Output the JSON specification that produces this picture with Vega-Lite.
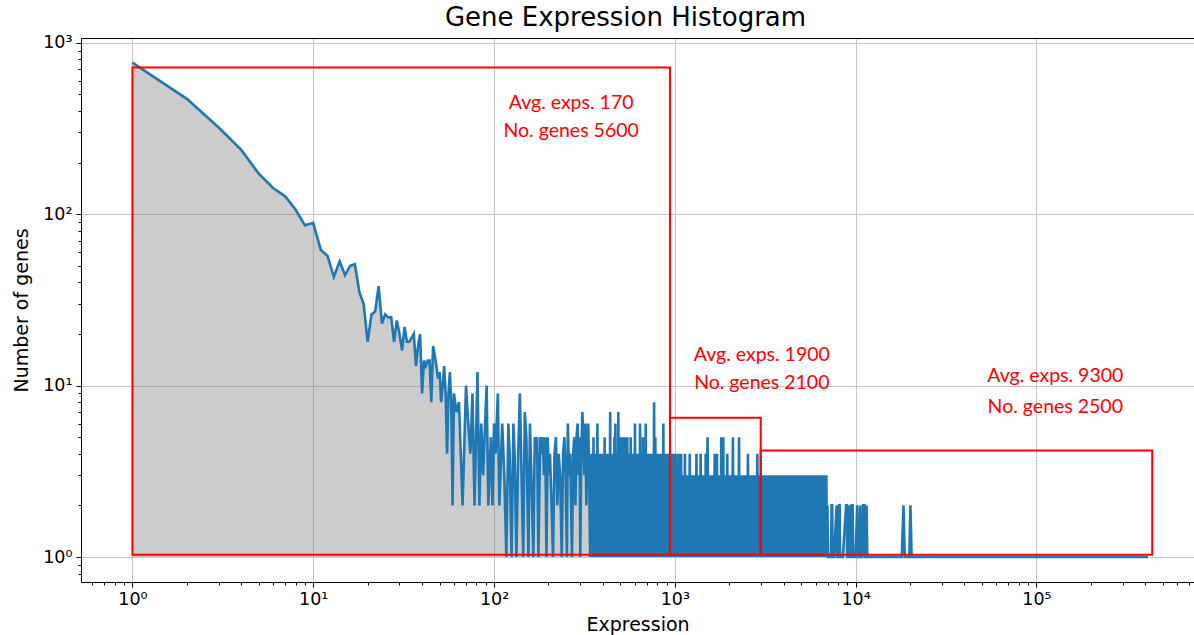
{
  "$schema": "https://vega.github.io/schema/vega-lite/v6.json",
  "width": 1113,
  "height": 544,
  "autosize": "none",
  "padding": {"left": 81, "top": 38, "right": 0, "bottom": 53},
  "background": "white",
  "title": {"text": "Gene Expression Histogram", "font": "DejaVu Sans", "fontSize": 26, "fontWeight": "normal", "color": "black", "anchor": "middle", "offset": 3, "dx": -12},
  "config": {"view": {"stroke": null}, "font": "DejaVu Sans"},
  "datasets": {
    "hist": [
      {"e":1,"n":765},{"e":2,"n":470},{"e":3,"n":320},{"e":4,"n":237},{"e":5,"n":172},{"e":6,"n":142},{"e":7,"n":127},{"e":8,"n":106},{"e":9,"n":86},{"e":10,"n":89},
      {"e":11,"n":62},{"e":12,"n":57},{"e":13,"n":43},{"e":14,"n":53},{"e":15,"n":44},{"e":16,"n":50},{"e":17,"n":51},{"e":18,"n":35},{"e":19,"n":30},{"e":20,"n":18},
      {"e":21,"n":26},{"e":22,"n":27},{"e":23,"n":38},{"e":24,"n":23},{"e":25,"n":26},{"e":26,"n":25},{"e":27,"n":25},{"e":28,"n":18},{"e":29,"n":24},{"e":30,"n":20},
      {"e":31,"n":16},{"e":32,"n":22},{"e":33,"n":18},{"e":34,"n":18},{"e":35,"n":19},{"e":36,"n":20},{"e":37,"n":13},{"e":38,"n":17},{"e":39,"n":20},{"e":40,"n":9},
      {"e":41,"n":14},{"e":42,"n":13},{"e":43,"n":14},{"e":44,"n":14},{"e":45,"n":8},{"e":46,"n":17},{"e":47,"n":15},{"e":48,"n":13},{"e":49,"n":11},{"e":50,"n":12},
      {"e":51,"n":8},{"e":52,"n":10},{"e":53,"n":13},{"e":54,"n":9},{"e":55,"n":4},{"e":56,"n":9},{"e":57,"n":12},{"e":58,"n":8},{"e":59,"n":2},{"e":60,"n":9},
      {"e":62,"n":7},{"e":64,"n":8},{"e":65,"n":5},{"e":67,"n":2},{"e":70,"n":10},{"e":72,"n":6},{"e":74,"n":4},{"e":76,"n":9},{"e":78,"n":2},{"e":81,"n":12},
      {"e":83,"n":2},{"e":85,"n":6},{"e":87,"n":3},{"e":91,"n":10},{"e":93,"n":2},{"e":96,"n":5},{"e":98,"n":2},{"e":100,"n":6},{"e":102,"n":4},{"e":105,"n":9},
      {"e":107,"n":2},{"e":111,"n":6},{"e":114,"n":3},{"e":117,"n":1},{"e":120,"n":6},{"e":122,"n":4},{"e":125,"n":1},{"e":128,"n":6},{"e":130,"n":4},{"e":133,"n":1},
      {"e":136,"n":4},{"e":139,"n":9},{"e":142,"n":3},{"e":145,"n":1},{"e":148,"n":7},{"e":151,"n":5},{"e":155,"n":1},{"e":158,"n":6},{"e":161,"n":3},{"e":165,"n":1},
      {"e":168,"n":5},{"e":171,"n":4},{"e":173,"n":5},{"e":176,"n":1},{"e":180,"n":5},{"e":183,"n":4},{"e":186,"n":5},{"e":189,"n":3},{"e":192,"n":5},{"e":195,"n":1},
      {"e":198,"n":5},{"e":201,"n":3},{"e":204,"n":4},{"e":208,"n":2},{"e":212,"n":1},{"e":216,"n":4},{"e":220,"n":5},{"e":224,"n":2},{"e":228,"n":4},{"e":232,"n":3},
      {"e":237,"n":1},{"e":241,"n":4},{"e":245,"n":5},{"e":249,"n":3},{"e":253,"n":1},{"e":256,"n":6},{"e":260,"n":3},{"e":264,"n":4},{"e":267,"n":2},{"e":270,"n":1},
      {"e":274,"n":4},{"e":278,"n":5},{"e":282,"n":2},{"e":286,"n":5},{"e":290,"n":6},{"e":294,"n":3},{"e":297,"n":5},{"e":300,"n":1},{"e":304,"n":4},{"e":308,"n":7},
      {"e":312,"n":5},{"e":316,"n":3},{"e":320,"n":6},{"e":324,"n":2},{"e":328,"n":4},{"e":332,"n":6},{"e":336,"n":3},
      {"e":340,"n":1},{"e":343,"n":4},{"e":346,"n":1},{"e":349,"n":4},{"e":352,"n":1},{"e":355,"n":5},{"e":358,"n":1},{"e":361,"n":3},{"e":364,"n":1},{"e":367,"n":4},
      {"e":370,"n":1},{"e":373,"n":6},{"e":376,"n":1},{"e":379,"n":4},{"e":382,"n":1},{"e":385,"n":4},{"e":388,"n":1},{"e":391,"n":3},{"e":394,"n":1},{"e":397,"n":4},
      {"e":400,"n":1},{"e":403,"n":4},{"e":406,"n":1},{"e":409,"n":5},{"e":412,"n":1},{"e":415,"n":4},{"e":418,"n":1},{"e":421,"n":3},{"e":424,"n":1},{"e":427,"n":4},
      {"e":430,"n":1},{"e":433,"n":4},{"e":436,"n":1},{"e":439,"n":7},{"e":442,"n":1},{"e":445,"n":4},{"e":448,"n":1},{"e":451,"n":3},{"e":454,"n":1},{"e":457,"n":4},
      {"e":460,"n":1},{"e":463,"n":5},{"e":466,"n":1},{"e":469,"n":6},{"e":472,"n":1},{"e":475,"n":4},{"e":478,"n":1},{"e":481,"n":4},{"e":484,"n":1},{"e":487,"n":7},
      {"e":490,"n":1},{"e":493,"n":4},{"e":496,"n":1},{"e":499,"n":5},
      {"e":502,"n":1},{"e":506,"n":4},{"e":510,"n":1},{"e":514,"n":5},{"e":518,"n":1},{"e":522,"n":4},{"e":526,"n":1},{"e":530,"n":5},{"e":534,"n":1},{"e":538,"n":4},
      {"e":542,"n":1},{"e":546,"n":5},{"e":550,"n":1},{"e":554,"n":4},{"e":558,"n":1},{"e":562,"n":3},{"e":566,"n":1},{"e":570,"n":5},{"e":574,"n":1},{"e":578,"n":4},
      {"e":582,"n":1},{"e":586,"n":4},{"e":590,"n":1},{"e":594,"n":3},{"e":598,"n":1},{"e":602,"n":6},{"e":606,"n":1},{"e":610,"n":4},{"e":614,"n":1},{"e":618,"n":3},
      {"e":622,"n":1},{"e":626,"n":4},{"e":630,"n":1},{"e":634,"n":4},{"e":638,"n":1},{"e":642,"n":6},{"e":646,"n":1},{"e":650,"n":4},{"e":654,"n":1},{"e":658,"n":3},
      {"e":662,"n":1},{"e":666,"n":5},{"e":670,"n":1},{"e":674,"n":4},{"e":678,"n":1},{"e":682,"n":4},{"e":686,"n":1},{"e":690,"n":6},{"e":694,"n":1},{"e":698,"n":4},
      {"e":702,"n":1},{"e":708,"n":3},{"e":714,"n":1},{"e":720,"n":4},{"e":726,"n":1},{"e":732,"n":4},{"e":738,"n":1},{"e":744,"n":3},{"e":750,"n":1},{"e":756,"n":4},
      {"e":762,"n":1},{"e":768,"n":8},{"e":774,"n":1},{"e":780,"n":5},{"e":786,"n":1},{"e":792,"n":4},{"e":798,"n":1},{"e":804,"n":4},{"e":810,"n":1},{"e":816,"n":3},
      {"e":822,"n":1},{"e":828,"n":4},{"e":834,"n":1},{"e":840,"n":4},{"e":846,"n":1},{"e":852,"n":4},{"e":858,"n":1},{"e":864,"n":6},{"e":870,"n":1},{"e":876,"n":4},
      {"e":882,"n":1},{"e":888,"n":3},{"e":894,"n":1},{"e":900,"n":4},{"e":906,"n":1},{"e":912,"n":4},{"e":918,"n":1},{"e":924,"n":3},{"e":930,"n":1},{"e":936,"n":4},
      {"e":942,"n":1},{"e":948,"n":4},{"e":954,"n":1},{"e":960,"n":3},{"e":966,"n":1},{"e":972,"n":4},{"e":978,"n":1},{"e":984,"n":4},{"e":990,"n":1},{"e":996,"n":3},
      {"e":1002,"n":1},{"e":1011,"n":4},{"e":1020,"n":1},{"e":1029,"n":3},{"e":1038,"n":1},{"e":1047,"n":4},{"e":1056,"n":1},{"e":1065,"n":3},{"e":1074,"n":1},{"e":1083,"n":4},
      {"e":1092,"n":1},{"e":1101,"n":3},{"e":1110,"n":1},{"e":1119,"n":3},{"e":1128,"n":1},{"e":1137,"n":4},{"e":1146,"n":1},{"e":1155,"n":3},{"e":1164,"n":1},{"e":1173,"n":3},
      {"e":1182,"n":1},{"e":1191,"n":3},{"e":1200,"n":1},{"e":1209,"n":4},{"e":1218,"n":1},{"e":1227,"n":3},{"e":1236,"n":1},{"e":1245,"n":3},{"e":1254,"n":1},{"e":1263,"n":3},
      {"e":1272,"n":1},{"e":1281,"n":3},{"e":1290,"n":1},{"e":1299,"n":3},{"e":1308,"n":1},{"e":1317,"n":4},{"e":1326,"n":1},{"e":1335,"n":3},{"e":1344,"n":1},{"e":1353,"n":3},
      {"e":1362,"n":1},{"e":1371,"n":3},{"e":1380,"n":1},{"e":1389,"n":4},{"e":1398,"n":1},
      {"e":1410,"n":3},{"e":1422,"n":1},{"e":1434,"n":3},{"e":1446,"n":1},{"e":1458,"n":3},{"e":1470,"n":1},{"e":1482,"n":4},{"e":1494,"n":1},{"e":1506,"n":3},{"e":1518,"n":5},
      {"e":1530,"n":1},{"e":1542,"n":3},{"e":1554,"n":1},{"e":1566,"n":3},{"e":1578,"n":1},{"e":1590,"n":3},{"e":1602,"n":1},{"e":1614,"n":3},{"e":1626,"n":1},{"e":1638,"n":3},
      {"e":1650,"n":1},{"e":1662,"n":4},{"e":1674,"n":1},{"e":1686,"n":4},{"e":1698,"n":1},{"e":1710,"n":4},{"e":1722,"n":1},{"e":1734,"n":3},{"e":1746,"n":1},{"e":1758,"n":3},
      {"e":1770,"n":1},{"e":1782,"n":3},{"e":1794,"n":1},{"e":1806,"n":5},{"e":1818,"n":1},{"e":1830,"n":3},{"e":1842,"n":1},{"e":1854,"n":5},{"e":1866,"n":1},{"e":1878,"n":3},
      {"e":1890,"n":1},{"e":1902,"n":3},{"e":1914,"n":1},{"e":1926,"n":3},{"e":1938,"n":1},{"e":1950,"n":4},{"e":1962,"n":1},{"e":1974,"n":3},{"e":1986,"n":1},{"e":1998,"n":3},
      {"e":2010,"n":1},{"e":2027,"n":3},{"e":2044,"n":1},{"e":2061,"n":3},{"e":2078,"n":1},{"e":2095,"n":5},{"e":2112,"n":1},{"e":2129,"n":3},{"e":2146,"n":1},{"e":2163,"n":3},
      {"e":2180,"n":1},{"e":2197,"n":3},{"e":2214,"n":1},{"e":2231,"n":3},{"e":2248,"n":1},{"e":2265,"n":5},{"e":2282,"n":1},{"e":2299,"n":3},{"e":2316,"n":1},{"e":2333,"n":3},
      {"e":2350,"n":1},{"e":2367,"n":3},{"e":2384,"n":1},{"e":2401,"n":3},{"e":2418,"n":1},{"e":2435,"n":3},{"e":2452,"n":1},{"e":2469,"n":3},{"e":2486,"n":1},{"e":2503,"n":3},
      {"e":2520,"n":1},{"e":2537,"n":4},{"e":2554,"n":1},{"e":2571,"n":3},{"e":2588,"n":1},{"e":2605,"n":3},{"e":2622,"n":1},{"e":2639,"n":3},{"e":2656,"n":1},{"e":2673,"n":3},
      {"e":2690,"n":1},{"e":2707,"n":3},{"e":2724,"n":1},{"e":2741,"n":3},{"e":2758,"n":1},{"e":2775,"n":3},{"e":2792,"n":1},
      {"e":2810,"n":3},{"e":2835,"n":1},{"e":2860,"n":4},{"e":2885,"n":1},{"e":2910,"n":3},{"e":2935,"n":1},{"e":2960,"n":3},{"e":2985,"n":1},{"e":3010,"n":3},{"e":3035,"n":1},
      {"e":3060,"n":3},{"e":3085,"n":1},{"e":3110,"n":2},{"e":3135,"n":1},{"e":3160,"n":3},{"e":3185,"n":1},{"e":3210,"n":3},{"e":3235,"n":1},{"e":3260,"n":2},{"e":3285,"n":1},
      {"e":3310,"n":3},{"e":3335,"n":1},{"e":3360,"n":3},{"e":3385,"n":1},{"e":3410,"n":3},{"e":3435,"n":1},{"e":3460,"n":2},{"e":3485,"n":1},{"e":3510,"n":3},{"e":3535,"n":1},
      {"e":3560,"n":3},{"e":3585,"n":1},{"e":3610,"n":3},{"e":3635,"n":1},{"e":3660,"n":2},{"e":3685,"n":1},{"e":3710,"n":3},{"e":3735,"n":1},{"e":3760,"n":3},{"e":3785,"n":1},
      {"e":3810,"n":3},{"e":3835,"n":1},{"e":3860,"n":2},{"e":3885,"n":1},{"e":3910,"n":3},{"e":3935,"n":1},{"e":3960,"n":3},{"e":3985,"n":1},
      {"e":4020,"n":3},{"e":4055,"n":1},{"e":4090,"n":3},{"e":4125,"n":1},{"e":4160,"n":2},{"e":4195,"n":1},{"e":4230,"n":3},{"e":4265,"n":1},{"e":4300,"n":3},{"e":4335,"n":1},
      {"e":4370,"n":3},{"e":4405,"n":1},{"e":4440,"n":2},{"e":4475,"n":1},{"e":4510,"n":3},{"e":4545,"n":1},{"e":4580,"n":3},{"e":4615,"n":1},{"e":4650,"n":3},{"e":4685,"n":1},
      {"e":4720,"n":2},{"e":4755,"n":1},{"e":4790,"n":3},{"e":4825,"n":1},{"e":4860,"n":3},{"e":4895,"n":1},{"e":4930,"n":3},{"e":4965,"n":1},{"e":5000,"n":2},{"e":5035,"n":1},
      {"e":5070,"n":3},{"e":5105,"n":1},{"e":5140,"n":3},{"e":5175,"n":1},{"e":5210,"n":3},{"e":5245,"n":1},{"e":5280,"n":2},{"e":5315,"n":1},{"e":5350,"n":3},{"e":5385,"n":1},
      {"e":5420,"n":3},{"e":5455,"n":1},{"e":5490,"n":3},{"e":5525,"n":1},{"e":5560,"n":2},{"e":5595,"n":1},
      {"e":5640,"n":3},{"e":5688,"n":1},{"e":5736,"n":3},{"e":5784,"n":1},{"e":5832,"n":2},{"e":5880,"n":1},{"e":5928,"n":3},{"e":5976,"n":1},{"e":6024,"n":3},{"e":6072,"n":1},
      {"e":6120,"n":2},{"e":6168,"n":1},{"e":6216,"n":3},{"e":6264,"n":1},{"e":6312,"n":3},{"e":6360,"n":1},{"e":6408,"n":2},{"e":6456,"n":1},{"e":6504,"n":3},{"e":6552,"n":1},
      {"e":6600,"n":2},{"e":6648,"n":1},{"e":6696,"n":3},{"e":6744,"n":1},{"e":6792,"n":2},{"e":6840,"n":1},{"e":6888,"n":3},{"e":6936,"n":1},{"e":6984,"n":2},{"e":7032,"n":1},
      {"e":7300,"n":1},{"e":7370,"n":2},{"e":7420,"n":2},{"e":7460,"n":1},{"e":7600,"n":1},{"e":7850,"n":2},{"e":7900,"n":1},{"e":8000,"n":1},{"e":8100,"n":2},{"e":8160,"n":2},
      {"e":8200,"n":1},{"e":8500,"n":1},{"e":8860,"n":2},{"e":8950,"n":2},{"e":9000,"n":1},{"e":9100,"n":1},{"e":9200,"n":2},{"e":9300,"n":1},{"e":9400,"n":1},{"e":9500,"n":2},
      {"e":9620,"n":2},{"e":9700,"n":1},{"e":10000,"n":1},{"e":10200,"n":2},{"e":10300,"n":1},{"e":10500,"n":1},{"e":10600,"n":2},{"e":10700,"n":1},{"e":10900,"n":1},{"e":11000,"n":2},
      {"e":11200,"n":2},{"e":11300,"n":1},{"e":11400,"n":1},{"e":11500,"n":2},{"e":11600,"n":1},{"e":18000,"n":1},{"e":18400,"n":2},{"e":18700,"n":1},{"e":19800,"n":1},{"e":20100,"n":2},
      {"e":20400,"n":1},{"e":414000,"n":1}
    ],
    "boxes": [
      {"x1": 1, "x2": 940, "y1": 1.03, "y2": 716},
      {"x1": 940, "x2": 2985, "y1": 1.03, "y2": 6.5},
      {"x1": 2985, "x2": 437000, "y1": 1.03, "y2": 4.18}
    ],
    "labels": [
      {"x": 267, "y": 445, "t": "Avg. exps. 170"},
      {"x": 267, "y": 307, "t": "No. genes 5600"},
      {"x": 3028, "y": 15.1, "t": "Avg. exps. 1900"},
      {"x": 3028, "y": 10.3, "t": "No. genes 2100"},
      {"x": 127200, "y": 11.3, "t": "Avg. exps. 9300"},
      {"x": 127200, "y": 7.49, "t": "No. genes 2500"}
    ]
  },
  "resolve": {"axis": {"x": "independent", "y": "independent"}},
  "layer": [
    {
      "data": {"name": "hist"},
      "mark": {"type": "area", "color": "gray", "opacity": 0.4, "clip": true},
      "encoding": {
        "x": {"field": "e", "type": "quantitative",
          "scale": {"type": "log", "domain": [0.5195, 744000], "nice": false},
          "axis": {
            "orient": "bottom", "title": "Expression", "titleFontSize": 19, "titleFontWeight": "normal", "titleColor": "black", "titleFont": "DejaVu Sans", "titlePadding": 8,
            "values": [0.6,0.7,0.8,0.9,1,2,3,4,5,6,7,8,9,10,20,30,40,50,60,70,80,90,100,200,300,400,500,600,700,800,900,1000,2000,3000,4000,5000,6000,7000,8000,9000,10000,20000,30000,40000,50000,60000,70000,80000,90000,100000,200000,300000,400000,500000,600000,700000],
            "labelExpr": "datum.value == 1 ? '10⁰' : datum.value == 10 ? '10¹' : datum.value == 100 ? '10²' : datum.value == 1000 ? '10³' : datum.value == 10000 ? '10⁴' : datum.value == 100000 ? '10⁵' : ''",
            "labelFontSize": 17.5, "labelColor": "black", "labelFont": "DejaVu Sans", "labelPadding": 3, "labelOverlap": false, "labelFlush": false,
            "tickColor": "black", "tickWidth": 1,
            "tickSize": {"condition": {"test": "abs(log(datum.value)/LN10 - round(log(datum.value)/LN10)) < 0.000001", "value": 5}, "value": 3},
            "domainColor": "black", "domainWidth": 1,
            "grid": true, "gridColor": "#c4c4c4", "gridWidth": 1,
            "gridOpacity": {"condition": {"test": "abs(log(datum.value)/LN10 - round(log(datum.value)/LN10)) < 0.000001", "value": 1}, "value": 0}
          }
        },
        "y": {"field": "n", "type": "quantitative",
          "scale": {"type": "log", "domain": [0.7148, 1065], "nice": false},
          "axis": {
            "orient": "left", "title": "Number of genes", "titleFontSize": 19, "titleFontWeight": "normal", "titleColor": "black", "titleFont": "DejaVu Sans", "titlePadding": 11,
            "values": [0.8,0.9,1,2,3,4,5,6,7,8,9,10,20,30,40,50,60,70,80,90,100,200,300,400,500,600,700,800,900,1000],
            "labelExpr": "datum.value == 1 ? '10⁰' : datum.value == 10 ? '10¹' : datum.value == 100 ? '10²' : datum.value == 1000 ? '10³' : ''",
            "labelFontSize": 17.5, "labelColor": "black", "labelFont": "DejaVu Sans", "labelPadding": 4, "labelOverlap": false, "labelFlush": false,
            "tickColor": "black", "tickWidth": 1,
            "tickSize": {"condition": {"test": "abs(log(datum.value)/LN10 - round(log(datum.value)/LN10)) < 0.000001", "value": 5}, "value": 3},
            "domainColor": "black", "domainWidth": 1,
            "grid": true, "gridColor": "#c4c4c4", "gridWidth": 1,
            "gridOpacity": {"condition": {"test": "abs(log(datum.value)/LN10 - round(log(datum.value)/LN10)) < 0.000001", "value": 1}, "value": 0}
          }
        },
        "y2": {"datum": 1}
      }
    },
    {
      "data": {"name": "hist"},
      "mark": {"type": "line", "color": "#1f77b4", "strokeWidth": 2.6, "clip": true},
      "encoding": {
        "x": {"field": "e", "type": "quantitative", "scale": {"type": "log", "domain": [0.5195, 744000], "nice": false}, "axis": {"orient": "top", "labels": false, "ticks": false, "grid": false, "title": null, "domain": true, "domainColor": "black", "domainWidth": 1}},
        "y": {"field": "n", "type": "quantitative", "scale": {"type": "log", "domain": [0.7148, 1065], "nice": false}, "axis": null}
      }
    },
    {
      "data": {"name": "boxes"},
      "mark": {"type": "rect", "filled": false, "stroke": "#ff0000", "strokeWidth": 2, "clip": true},
      "encoding": {
        "x": {"field": "x1", "type": "quantitative", "scale": {"type": "log", "domain": [0.5195, 744000], "nice": false}, "axis": null},
        "x2": {"field": "x2"},
        "y": {"field": "y1", "type": "quantitative", "scale": {"type": "log", "domain": [0.7148, 1065], "nice": false}, "axis": null},
        "y2": {"field": "y2"}
      }
    },
    {
      "data": {"name": "labels"},
      "mark": {"type": "text", "color": "#ff0000", "font": "Lato", "fontSize": 19.5, "align": "center", "baseline": "middle"},
      "encoding": {
        "x": {"field": "x", "type": "quantitative", "scale": {"type": "log", "domain": [0.5195, 744000], "nice": false}, "axis": null},
        "y": {"field": "y", "type": "quantitative", "scale": {"type": "log", "domain": [0.7148, 1065], "nice": false}, "axis": null},
        "text": {"field": "t"}
      }
    }
  ]
}
